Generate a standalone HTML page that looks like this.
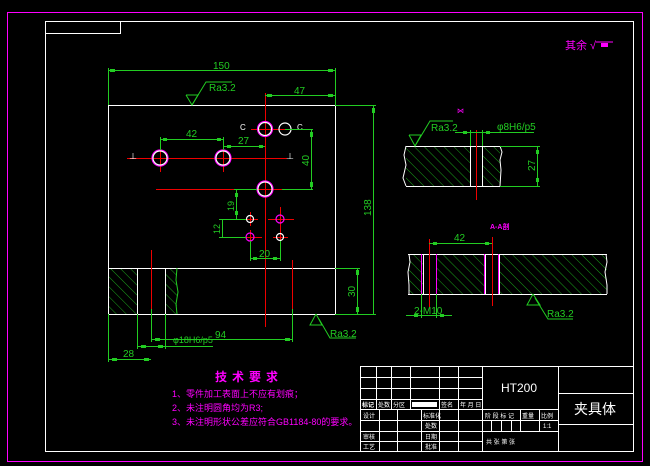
<!DOCTYPE html>
<html><head><meta charset="utf-8"><style>
html,body{margin:0;padding:0;background:#000;}
svg{display:block;}
text{font-family:"Liberation Sans","Noto Sans CJK SC",sans-serif;}
</style></head><body>
<svg width="650" height="466" viewBox="0 0 650 466" xmlns="http://www.w3.org/2000/svg">
<defs>
<pattern id="h" patternUnits="userSpaceOnUse" width="7" height="7" patternTransform="rotate(-45)">
<line x1="0" y1="0" x2="0" y2="7" stroke="#2c2" stroke-width="0.8"/>
</pattern>
</defs>
<rect width="650" height="466" fill="#000"/>
<rect x="7.5" y="12.5" width="635" height="449" fill="none" stroke="#f0f" stroke-width="1"/>
<rect x="45.5" y="21.5" width="588" height="430" fill="none" stroke="#fff" stroke-width="1"/>
<rect x="45.5" y="21.5" width="75" height="12" fill="none" stroke="#fff" stroke-width="1"/>
<text x="565" y="49" fill="#f0f" font-size="11">其余 √</text>
<line x1="596" y1="42" x2="613" y2="42" stroke="#f0f"/>
<rect x="601" y="43" width="7" height="4" fill="#f0f"/>

<!-- main view -->
<g fill="none">
<rect x="108" y="268" width="29" height="46" fill="url(#h)"/>
<rect x="165" y="268" width="12" height="46" fill="url(#h)"/>
<rect x="108.5" y="105.5" width="227" height="209" stroke="#fff"/>
<line x1="108" y1="268.5" x2="335" y2="268.5" stroke="#fff"/>
<line x1="137.5" y1="268" x2="137.5" y2="314" stroke="#fff"/>
<line x1="165.5" y1="268" x2="165.5" y2="314" stroke="#fff"/>
<polyline points="177,268 176,280 178,292 176,304 177,314" stroke="#2c2"/>
<!-- red center lines -->
<g stroke="#e00">
<line x1="265.5" y1="93" x2="265.5" y2="327"/>
<line x1="127" y1="158.5" x2="287" y2="158.5"/>
<line x1="251" y1="129.5" x2="297" y2="129.5"/>
<line x1="156" y1="189.5" x2="282" y2="189.5"/>
<line x1="151.5" y1="250" x2="151.5" y2="315"/>
<line x1="292.5" y1="260" x2="292.5" y2="310"/>
<line x1="160.5" y1="145" x2="160.5" y2="172"/>
<line x1="223.5" y1="145" x2="223.5" y2="172"/>
<line x1="242" y1="219.5" x2="258" y2="219.5"/><line x1="250.5" y1="212" x2="250.5" y2="226"/>
<line x1="268" y1="219.5" x2="294" y2="219.5"/><line x1="280.5" y1="207" x2="280.5" y2="230"/>
<line x1="242" y1="237.5" x2="262" y2="237.5"/><line x1="250.5" y1="230" x2="250.5" y2="245"/>
<line x1="273" y1="237.5" x2="288" y2="237.5"/><line x1="280.5" y1="230" x2="280.5" y2="245"/>
</g>
<g stroke="#fff" stroke-width="1.2">
<circle cx="265" cy="129" r="7.5" stroke="#f0f"/><circle cx="265" cy="129" r="6.5"/>
<circle cx="285" cy="129" r="6"/>
<circle cx="160" cy="158" r="8" stroke="#f0f"/><circle cx="160" cy="158" r="7"/>
<circle cx="223" cy="158" r="8" stroke="#f0f"/><circle cx="223" cy="158" r="7"/>
<circle cx="265" cy="189" r="8" stroke="#f0f"/><circle cx="265" cy="189" r="7"/>
<circle cx="250" cy="219" r="3.5"/>
<circle cx="280" cy="219" r="4" stroke="#f0f"/>
<circle cx="250" cy="237" r="4" stroke="#f0f"/>
<circle cx="280" cy="237" r="3.5"/>
</g>
<g fill="#fff" font-size="8">
<text x="129" y="159" fill="#fff">⊥</text><text x="286" y="159" fill="#fff">⊥</text>
<text x="240" y="130" fill="#fff">C</text><text x="297" y="130" fill="#fff">C</text>
</g>
<!-- green dims -->
<g stroke="#2c2">
<line x1="108.5" y1="68" x2="108.5" y2="105"/><line x1="335.5" y1="68" x2="335.5" y2="105"/>
<line x1="108" y1="70.5" x2="335" y2="70.5"/>
<polyline points="186,95 198,95 192,105 186,95"/><polyline points="192,105 206,82 232,82"/>
<line x1="265" y1="95.5" x2="335" y2="95.5"/>
<line x1="160.5" y1="137" x2="160.5" y2="150"/><line x1="223.5" y1="137" x2="223.5" y2="150"/>
<line x1="160" y1="139.5" x2="223" y2="139.5"/>
<line x1="223" y1="146.5" x2="265" y2="146.5"/>
<line x1="285" y1="129.5" x2="313" y2="129.5"/><line x1="282" y1="189.5" x2="313" y2="189.5"/>
<line x1="311.5" y1="129" x2="311.5" y2="189"/>
<line x1="234" y1="189.5" x2="257" y2="189.5"/>
<line x1="236.5" y1="189" x2="236.5" y2="219"/>
<line x1="219" y1="219.5" x2="246" y2="219.5"/><line x1="219" y1="237.5" x2="246" y2="237.5"/>
<line x1="222.5" y1="219" x2="222.5" y2="237"/>
<line x1="250.5" y1="241" x2="250.5" y2="261"/><line x1="280.5" y1="241" x2="280.5" y2="261"/>
<line x1="250" y1="258.5" x2="280" y2="258.5"/>
<line x1="335" y1="105.5" x2="376" y2="105.5"/><line x1="335" y1="314.5" x2="376" y2="314.5"/>
<line x1="373.5" y1="105" x2="373.5" y2="314"/>
<line x1="335" y1="268.5" x2="360" y2="268.5"/>
<line x1="357.5" y1="268" x2="357.5" y2="314"/>
<polyline points="316,314 310,325 322,325 316,314"/><polyline points="319,319 330,338 356,338"/>
<line x1="108.5" y1="314" x2="108.5" y2="362"/><line x1="137.5" y1="314" x2="137.5" y2="349"/>
<line x1="151.5" y1="309" x2="151.5" y2="342"/><line x1="292.5" y1="309" x2="292.5" y2="342"/>
<line x1="165.5" y1="314" x2="165.5" y2="349"/>
<line x1="151" y1="339.5" x2="292" y2="339.5"/>
<line x1="137" y1="346.5" x2="213" y2="346.5"/>
<line x1="108" y1="359.5" x2="151" y2="359.5"/>
</g>
<g fill="#2c2">
<rect x="110" y="69" width="5" height="3"/><rect x="328" y="69" width="5" height="3"/>
<rect x="267" y="94" width="5" height="3"/><rect x="328" y="94" width="5" height="3"/>
<rect x="163" y="138" width="4" height="3"/><rect x="217" y="138" width="4" height="3"/>
<rect x="227" y="145" width="4" height="3"/><rect x="259" y="145" width="4" height="3"/>
<rect x="310" y="132" width="3" height="5"/><rect x="310" y="182" width="3" height="5"/>
<rect x="235" y="193" width="3" height="4"/><rect x="235" y="211" width="3" height="4"/>
<rect x="253" y="257" width="4" height="3"/><rect x="273" y="257" width="4" height="3"/>
<rect x="372" y="108" width="3" height="5"/><rect x="356" y="270" width="3" height="5"/><rect x="356" y="307" width="3" height="5"/>
<rect x="155" y="338" width="5" height="3"/><rect x="285" y="338" width="5" height="3"/>
<rect x="141" y="345" width="5" height="3"/><rect x="158" y="345" width="5" height="3"/>
<rect x="112" y="358" width="5" height="3"/><rect x="144" y="358" width="5" height="3"/>
</g>
<g fill="#2c2" font-size="10">
<text x="213" y="69">150</text>
<text x="209" y="91">Ra3.2</text>
<text x="294" y="94">47</text>
<text x="186" y="137">42</text>
<text x="238" y="144">27</text>
<text x="259" y="257">20</text>
<text x="173" y="343" font-size="9">φ18H6/p5</text>
<text x="215" y="338">94</text>
<text x="123" y="357">28</text>
<text x="330" y="337">Ra3.2</text>
<text transform="translate(309,166) rotate(-90)">40</text>
<text transform="translate(234,211) rotate(-90)" font-size="9">19</text>
<text transform="translate(220,234) rotate(-90)" font-size="9">12</text>
<text transform="translate(371,216) rotate(-90)">138</text>
<text transform="translate(355,297) rotate(-90)">30</text>
</g>

<!-- right upper view -->
<rect x="406" y="146" width="64" height="40" fill="url(#h)"/>
<rect x="482" y="146" width="18" height="40" fill="url(#h)"/>
<g stroke="#fff">
<line x1="406" y1="146.5" x2="500" y2="146.5"/><line x1="406" y1="186.5" x2="500" y2="186.5"/>
<line x1="470.5" y1="146" x2="470.5" y2="186"/><line x1="482.5" y1="146" x2="482.5" y2="186"/>
<polyline points="500,146 502,152 500,160 501,170 500,186"/>
<polyline points="406,146 404,155 406,165 403,178 406,186"/>
</g>
<line x1="476.5" y1="130" x2="476.5" y2="200" stroke="#e00"/>
<g stroke="#2c2">
<polyline points="409,135 421,135 415,146 409,135"/><polyline points="415,146 430,121 453,121"/>
<line x1="455" y1="132.5" x2="534" y2="132.5"/>
<line x1="470.5" y1="130" x2="470.5" y2="146"/><line x1="482.5" y1="130" x2="482.5" y2="146"/>
<line x1="500" y1="146.5" x2="540" y2="146.5"/><line x1="500" y1="186.5" x2="540" y2="186.5"/>
<line x1="537.5" y1="146" x2="537.5" y2="186"/>
</g>
<g fill="#2c2"><rect x="463" y="131" width="4" height="3"/><rect x="486" y="131" width="4" height="3"/><rect x="536" y="150" width="3" height="4"/><rect x="536" y="178" width="3" height="4"/></g>
<g fill="#2c2" font-size="10">
<text x="431" y="131">Ra3.2</text>
<text x="497" y="130">φ8H6/p5</text>
<text transform="translate(535,171) rotate(-90)">27</text>
</g>
<text x="457" y="113" fill="#f0f" font-size="7">⋈</text>

<!-- right lower view -->
<rect x="409" y="254" width="14" height="40" fill="url(#h)"/>
<rect x="436" y="254" width="49" height="40" fill="url(#h)"/>
<rect x="499" y="254" width="108" height="40" fill="url(#h)"/>
<g stroke="#fff">
<line x1="408" y1="254.5" x2="607" y2="254.5"/><line x1="408" y1="294.5" x2="607" y2="294.5"/>
<polyline points="409,254 410,262 408,272 409,285 409,294"/>
<polyline points="606,254 607,262 605,272 607,285 607,294"/>
<line x1="423.5" y1="254" x2="423.5" y2="294"/><line x1="485.5" y1="254" x2="485.5" y2="294"/><line x1="499.5" y1="254" x2="499.5" y2="294"/>
</g>
<g stroke="#f0f"><line x1="421.5" y1="254" x2="421.5" y2="294"/><line x1="436.5" y1="254" x2="436.5" y2="294"/><line x1="484.5" y1="254" x2="484.5" y2="294"/><line x1="498.5" y1="254" x2="498.5" y2="294"/></g>
<g stroke="#e00"><line x1="429.5" y1="239" x2="429.5" y2="307"/><line x1="492.5" y1="237" x2="492.5" y2="306"/></g>
<g stroke="#2c2">
<line x1="429" y1="243.5" x2="492" y2="243.5"/>
<line x1="421.5" y1="294" x2="421.5" y2="318"/><line x1="436.5" y1="294" x2="436.5" y2="318"/>
<line x1="406" y1="315.5" x2="452" y2="315.5"/>
<polyline points="533,294 527,305 540,305 533,294"/><polyline points="535,298 548,319 573,319"/>
</g>
<g fill="#2c2"><rect x="433" y="242" width="4" height="3"/><rect x="485" y="242" width="4" height="3"/><rect x="414" y="314" width="4" height="3"/><rect x="440" y="314" width="4" height="3"/></g>
<g fill="#2c2" font-size="10">
<text x="454" y="241">42</text>
<text x="414" y="314">2-M10</text>
<text x="547" y="317">Ra3.2</text>
</g>
<text x="490" y="229" fill="#f0f" font-size="7" font-weight="bold">A-A剖</text>

<!-- tech requirements -->
<g fill="#f0f">
<text x="215" y="381" font-size="12" font-weight="bold" letter-spacing="5" font-family="'Liberation Sans','Noto Sans CJK SC',sans-serif">技术要求</text>
<text x="172" y="397" font-size="9">1、零件加工表面上不应有划痕；</text>
<text x="172" y="411" font-size="9">2、未注明圆角均为R3;</text>
<text x="172" y="425" font-size="9">3、未注明形状公差应符合GB1184-80的要求。</text>
</g>
</g>

<!-- title block -->
<g stroke="#fff" fill="none">
<rect x="360.5" y="366.5" width="273" height="85"/>
<line x1="482.5" y1="366" x2="482.5" y2="451"/>
<line x1="558.5" y1="366" x2="558.5" y2="451"/>
<line x1="360" y1="377.5" x2="482" y2="377.5"/>
<line x1="360" y1="388.5" x2="482" y2="388.5"/>
<line x1="360" y1="399.5" x2="482" y2="399.5"/>
<line x1="360" y1="409.5" x2="558" y2="409.5"/>
<line x1="360" y1="420.5" x2="558" y2="420.5"/>
<line x1="360" y1="431.5" x2="558" y2="431.5"/>
<line x1="360" y1="441.5" x2="482" y2="441.5"/>
<line x1="376.5" y1="366" x2="376.5" y2="409"/>
<line x1="391.5" y1="366" x2="391.5" y2="409"/>
<line x1="410.5" y1="366" x2="410.5" y2="409"/>
<line x1="439.5" y1="366" x2="439.5" y2="451"/>
<line x1="458.5" y1="366" x2="458.5" y2="451"/>
<line x1="379.5" y1="409" x2="379.5" y2="451"/>
<line x1="397.5" y1="409" x2="397.5" y2="451"/>
<line x1="421.5" y1="409" x2="421.5" y2="451"/>
<line x1="520.5" y1="409" x2="520.5" y2="431"/>
<line x1="539.5" y1="409" x2="539.5" y2="431"/>
<line x1="491.5" y1="420" x2="491.5" y2="431"/>
<line x1="501.5" y1="420" x2="501.5" y2="431"/>
<line x1="511.5" y1="420" x2="511.5" y2="431"/>
<line x1="558" y1="393.5" x2="633" y2="393.5"/>
<line x1="558" y1="424.5" x2="633" y2="424.5"/>
</g>
<rect x="412" y="402" width="25" height="5" fill="#fff"/>
<g fill="#fff" font-size="6">
<text x="362" y="407" font-weight="bold">标记</text><text x="378" y="407">处数</text><text x="393" y="407">分区</text>
<text x="441" y="407">签名</text><text x="460" y="407">年 月 日</text>
<text x="363" y="418">设计</text><text x="423" y="418">标准化</text>
<text x="425" y="428">处数</text>
<text x="363" y="439">审核</text><text x="425" y="439">日期</text>
<text x="363" y="449">工艺</text><text x="425" y="449">批准</text>
<text x="485" y="418">阶 段 标 记</text><text x="522" y="418">重量</text><text x="541" y="418">比例</text>
<text x="543" y="428">1:1</text>
<text x="486" y="444">共  张  第  张</text>
</g>
<text x="501" y="392" fill="#fff" font-size="12" font-family="'Liberation Serif',serif">HT200</text>
<text x="574" y="414" fill="#fff" font-size="14">夹具体</text>
</svg>
</body></html>
